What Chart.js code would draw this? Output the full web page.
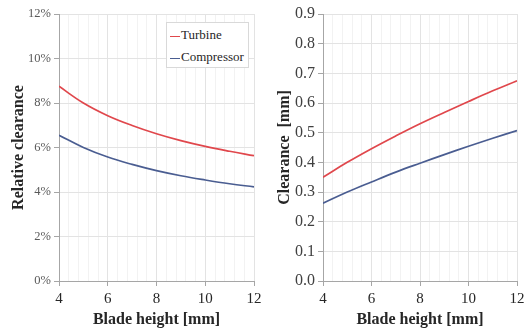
<!DOCTYPE html>
<html>
<head>
<meta charset="utf-8">
<script src="https://cdn.jsdelivr.net/npm/chart.js@4"></script>
<style>
  html, body { margin: 0; padding: 0; background: #fff; }
  .wrap { position: relative; width: 525px; height: 333px; }
  .box-left { position: absolute; left: 0; top: 0; width: 262px; height: 333px; }
  .box-right { position: absolute; left: 262px; top: 0; width: 263px; height: 333px; }
  .legend {
    position: absolute; left: 166px; top: 22px; width: 81px; height: 44px;
    border: 1px solid #d9d9d9; background: #fff;
    font-family: 'Liberation Serif', serif; font-size: 13px; color: #262626;
  }
  .legend div { position: absolute; left: 3px; height: 16px; line-height: 16px; white-space: nowrap; }
  .legend span { display: inline-block; width: 10px; height: 0; border-top: 1.5px solid; vertical-align: middle; margin-right: 1px; }
</style>
</head>
<body>
<div class="wrap">
  <div class="box-left"><canvas class="chart-rel"></canvas></div>
  <div class="box-right"><canvas class="chart-abs"></canvas></div>
  <div class="legend"></div>
</div>
<script>
const bladeHeight = [4, 5, 6, 7, 8, 9, 10, 11, 12];
const turbineRel = [8.75, 8.0, 7.43, 6.99, 6.62, 6.31, 6.05, 5.83, 5.63];
const compressorRel = [6.55, 6.0, 5.57, 5.24, 4.96, 4.73, 4.54, 4.37, 4.23];
const turbineAbs = [0.350, 0.400, 0.446, 0.489, 0.530, 0.568, 0.605, 0.641, 0.675];
const compressorAbs = [0.262, 0.300, 0.334, 0.367, 0.397, 0.426, 0.454, 0.481, 0.507];
const seriesNames = ['Turbine', 'Compressor'];
const seriesColors = ['#e0474c', '#4a5d91'];

const fontFamily = "'Liberation Serif', serif";
const gridMajor = '#e3e3e3';
const gridMinor = '#f2f2f2';
const axisColor = '#a6a6a6';

function points(values) {
  return bladeHeight.map((h, i) => ({ x: h, y: values[i] }));
}

function isMajorX(v) {
  const r = Math.round(v);
  return Math.abs(v - r) < 1e-6 && r % 2 === 0;
}

function makeDatasets(a, b) {
  return [a, b].map((vals, i) => ({
    label: seriesNames[i],
    data: points(vals),
    borderColor: seriesColors[i],
    borderWidth: 1.7,
    pointRadius: 0,
    tension: 0.4,
    fill: false
  }));
}

function xScale() {
  return {
    type: 'linear',
    min: 4,
    max: 12,
    border: { color: axisColor },
    grid: {
      color: ctx => (isMajorX(ctx.tick.value) ? gridMajor : gridMinor),
      tickColor: ctx => (isMajorX(ctx.tick.value) ? axisColor : 'rgba(0,0,0,0)'),
      tickLength: 5
    },
    ticks: {
      stepSize: 0.4,
      autoSkip: false,
      maxRotation: 0,
      padding: 4,
      color: '#262626',
      font: { family: fontFamily, size: 15 },
      callback: v => (isMajorX(v) ? String(Math.round(v)) : '')
    },
    title: {
      display: true,
      text: 'Blade height [mm]',
      color: '#262626',
      padding: { top: 2, bottom: 0 },
      font: { family: fontFamily, size: 16, weight: 'bold' }
    },
    afterFit: s => {
      s.height = 48;
      s.paddingRight = 8;
    }
  };
}

function yScale(max, step, fmt, titleText, width, size, color) {
  return {
    min: 0,
    max: max,
    border: { color: axisColor },
    grid: { color: gridMajor, tickColor: axisColor, tickLength: 5 },
    ticks: {
      stepSize: step,
      padding: 3,
      color: color,
      font: { family: fontFamily, size: size },
      callback: fmt
    },
    title: {
      display: true,
      text: titleText,
      color: '#262626',
      padding: { top: 0, bottom: 2 },
      font: { family: fontFamily, size: 16, weight: 'bold' }
    },
    afterFit: s => { s.width = width; }
  };
}

function baseOptions(xs, ys, pad) {
  return {
    responsive: true,
    maintainAspectRatio: false,
    animation: false,
    layout: { padding: pad },
    plugins: { legend: { display: false }, tooltip: { enabled: false } },
    scales: { x: xs, y: ys }
  };
}

const chartRelBox = document.querySelector('.chart-rel');
const chartRelInstance = new Chart(chartRelBox, {
  type: 'line',
  data: { datasets: makeDatasets(turbineRel, compressorRel) },
  options: baseOptions(
    xScale(),
    yScale(12, 2, v => Math.round(v) + '%', 'Relative clearance', 50, 12.5, '#595959'),
    { left: 9, right: 0, top: 14, bottom: 4 }
  )
});

const chartAbsBox = document.querySelector('.chart-abs');
const chartAbsInstance = new Chart(chartAbsBox, {
  type: 'line',
  data: { datasets: makeDatasets(turbineAbs, compressorAbs) },
  options: baseOptions(
    xScale(),
    yScale(0.9, 0.1, v => v.toFixed(1), 'Clearance  [mm]', 48, 16, '#404040'),
    { left: 13, right: 0, top: 14, bottom: 4 }
  )
});

// legend box (same look as the source)
const legendBox = document.querySelector('.legend');
seriesNames.forEach((name, i) => {
  const row = document.createElement('div');
  row.style.top = (i === 0 ? 4 : 26) + 'px';
  row.innerHTML = '<span style="border-color:' + seriesColors[i] + '"></span>' + name;
  legendBox.appendChild(row);
});
</script>
</body>
</html>
